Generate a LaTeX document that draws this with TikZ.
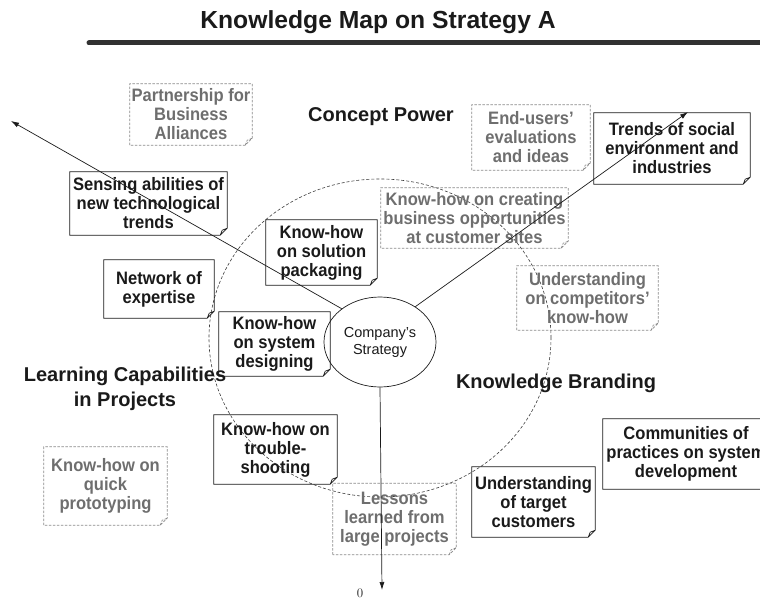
\documentclass[tikz,border=0pt]{standalone}
\usepackage{fontspec}
\setsansfont{Liberation Sans}
\newfontfamily\notefont[FakeStretch=0.92]{Liberation Sans}
\usetikzlibrary{arrows.meta, shapes.geometric}
\definecolor{kmink}{HTML}{1A1A1A}
\definecolor{kmgrey}{HTML}{6E6E6E}
\definecolor{kmdash}{HTML}{8A8A8A}

\begin{document}
\begin{tikzpicture}[x=1pt, y=-1pt, font=\sffamily,
  note/.style={inner sep=1pt, align=center, font=\notefont\bfseries\fontsize{18}{19}\selectfont},
  known/.style={note, text=kmink},
  latent/.style={note, text=kmgrey},
  area/.style={font=\sffamily\bfseries\fontsize{20}{25}\selectfont, align=center, text=kmink},
  solidfold/.style={draw=kmink, line width=0.7pt},
  dashfold/.style={draw=kmdash, line width=0.7pt, dash pattern=on 2.5pt off 1.5pt},
  ar/.style={-{Latex[length=8pt,width=5pt]}, kmink, line width=0.7pt}]

\clip (0,0) rectangle (760,599);

\node[font=\sffamily\bfseries\fontsize{24.7}{28}\selectfont, text=kmink] (title) at (378,22) {Knowledge Map on Strategy A};
\draw[line width=5pt, line cap=round, kmink!90] (89,43) -- (762,43);

\node[draw=kmink!85, ellipse, dash pattern=on 3pt off 2pt, line width=0.6pt, minimum width=342pt, minimum height=318pt] (ring) at (380,338) {};

\node[area] (concept) at (381,117) {Concept Power};
\node[area] (learning) at (125,389) {Learning Capabilities\\in Projects};
\node[area] (branding) at (556,383) {Knowledge Branding};

\node[latent, minimum width=122pt, minimum height=61pt] (partner) at (191,114.5) {Partnership for\\Business\\Alliances};
\node[latent, minimum width=118pt, minimum height=65pt] (endusers) at (531,137.5) {End-users’\\evaluations\\and ideas};
\node[known, minimum width=156pt, minimum height=71pt] (trends) at (672,148.5) {Trends of social\\environment and\\industries};
\node[known, minimum width=157pt, minimum height=63pt] (sensing) at (148.5,203.5) {Sensing abilities of\\new technological\\trends};
\node[known, minimum width=111pt, minimum height=65pt] (solution) at (321.5,252.5) {Know-how\\on solution\\packaging};
\node[latent, minimum width=187pt, minimum height=60pt] (creating) at (474.5,218) {Know-how on creating\\business opportunities\\at customer sites};
\node[known, minimum width=110pt, minimum height=58pt] (network) at (159,289) {Network of\\expertise};
\node[latent, minimum width=141pt, minimum height=64pt] (rivals) at (587.5,298) {Understanding\\on competitors’\\know-how};
\node[known, minimum width=111pt, minimum height=64pt] (designing) at (274.5,344) {Know-how\\on system\\designing};
\node[known, minimum width=123pt, minimum height=69pt] (trouble) at (275.5,449.5) {Know-how on\\trouble-\\shooting};
\node[latent, minimum width=123pt, minimum height=78pt] (quick) at (105.5,486) {Know-how on\\quick\\prototyping};
\node[latent, minimum width=123pt, minimum height=71pt] (lessons) at (394.5,519) {Lessons\\learned from\\large projects};
\node[known, minimum width=123pt, minimum height=70pt] (target) at (533.5,502) {Understanding\\of target\\customers};
\node[known, minimum width=166pt, minimum height=70pt] (communities) at (686,454) {Communities of\\practices on system\\development};

\foreach \n in {trends, sensing, solution, network, designing, trouble, target, communities}
  \draw[solidfold] (\n.south west) -- (\n.north west) -- (\n.north east) -- ([yshift=7pt]\n.south east)
    -- ([xshift=-7pt]\n.south east) -- cycle
    ([xshift=-7pt]\n.south east) -- ([xshift=-5pt,yshift=5pt]\n.south east) -- ([yshift=7pt]\n.south east);
\foreach \n in {partner, endusers, creating, rivals, quick, lessons}
  \draw[dashfold] (\n.south west) -- (\n.north west) -- (\n.north east) -- ([yshift=7pt]\n.south east)
    -- ([xshift=-7pt]\n.south east) -- cycle
    ([xshift=-7pt]\n.south east) -- ([xshift=-5pt,yshift=5pt]\n.south east) -- ([yshift=7pt]\n.south east);

\node[draw=kmink, ellipse, line width=0.7pt, minimum width=112pt, minimum height=90pt, inner sep=0pt, align=center,
  font=\sffamily\fontsize{14.5}{17}\selectfont, text=kmink] (strat) at (380,342) {Company’s\\Strategy};

\coordinate (tipNW) at (11,121);
\coordinate (tipNE) at (688,112);
\coordinate (tipS) at (382,590);
\draw[ar] (strat.139) -- (tipNW);
\draw[ar] (strat.45) -- (tipNE);
\draw[ar] (strat.south) -- (tipS);
\node[font=\rmfamily\fontsize{13}{15}\selectfont, text=kmink] (zero) at (360,593) {0};
\end{tikzpicture}
\end{document}
